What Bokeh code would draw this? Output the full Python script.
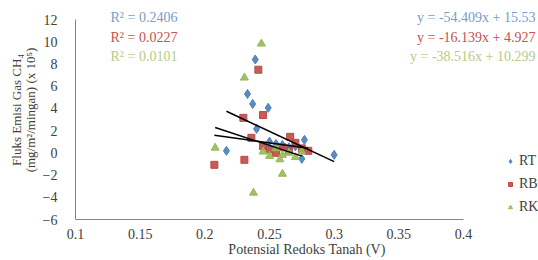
from bokeh.plotting import figure
from bokeh.models import Legend, LegendItem, Label, Range1d, FixedTicker, ColumnDataSource
from bokeh.embed import file_html
from bokeh.resources import INLINE

# ---- data ----
rt_x = [0.239, 0.233, 0.237, 0.249, 0.240, 0.2167, 0.277, 0.275, 0.300,
        0.250, 0.255, 0.260, 0.265, 0.270]
rt_y = [8.4, 5.3, 4.4, 4.05, 2.16, 0.18, 1.17, -0.54, -0.18,
        1.0, 0.8, 0.7, 0.5, 0.6]
rb_x = [0.2414, 0.245, 0.2298, 0.2074, 0.2306, 0.236, 0.266, 0.280,
        0.245, 0.250, 0.255, 0.260, 0.265, 0.270, 0.275]
rb_y = [7.48, 3.4, 3.15, -1.08, -0.63, 1.35, 1.44, 0.18,
        0.6, 0.3, 0.0, 0.5, 0.2, 0.9, 0.4]
rk_x = [0.2437, 0.2306, 0.208, 0.2376, 0.260, 0.245, 0.250, 0.255,
        0.260, 0.265, 0.270, 0.258, 0.275]
rk_y = [9.82, 6.76, 0.45, -3.6, -1.9, 0.1, -0.3, 0.4,
        -0.2, 0.0, -0.4, -0.6, 0.1]

series_names = ["RT", "RB", "RK"]
slopes = [-54.409, -16.139, -38.516]
intercepts = [15.53, 4.927, 10.299]
r2_values = ["0.2406", "0.0227", "0.0101"]
eq_texts = ["y = -54.409x + 15.53", "y = -16.139x + 4.927", "y = -38.516x + 10.299"]

x_ticks = [0.1, 0.15, 0.2, 0.25, 0.3, 0.35, 0.4]
y_ticks = [-6, -4, -2, 0, 2, 4, 6, 8, 10, 12]

colors = ["#4A7EBB", "#BE4B48", "#98B954"]
text_colors = ["#7A9CCB", "#C8504D", "#B5CC85"]
FONT = "Liberation Serif"

# frame spans to the right/top edge so texts and legend are not clipped;
# axis lines are limited with bounds
p = figure(width=538, height=260, output_backend="svg", toolbar_location=None,
           min_border_left=75, min_border_right=0, min_border_top=0, min_border_bottom=41)
p.x_range = Range1d(0.1, 0.458)
p.y_range = Range1d(-6, 13.71)
p.xgrid.visible = False
p.ygrid.visible = False
p.outline_line_color = None
p.background_fill_color = "white"

for ax in (p.xaxis[0], p.yaxis[0]):
    ax.axis_line_color = "#868686"
    ax.major_tick_line_color = None
    ax.minor_tick_line_color = None
    ax.major_label_text_font = FONT
    ax.major_label_text_font_size = "14px"
    ax.major_label_text_color = "#404040"
    ax.axis_label_text_font = FONT
    ax.axis_label_text_font_size = "14px"
    ax.axis_label_text_font_style = "normal"
    ax.axis_label_text_color = "#404040"
p.xaxis.bounds = (0.1, 0.4)
p.yaxis.bounds = (-6, 12)
p.xaxis.ticker = FixedTicker(ticks=x_ticks)
p.yaxis.ticker = FixedTicker(ticks=y_ticks)
p.xaxis.major_label_overrides = {t: ("%g" % t) for t in x_ticks}
p.xaxis.major_label_standoff = 3
p.yaxis.major_label_standoff = 12
p.xaxis.axis_label = "Potensial Redoks Tanah (V)"
p.xaxis.axis_label_standoff = 0
p.yaxis.axis_label = "Fluks Emisi Gas CH\u2084\n(mg/m\u00b2/mingan) (x 10\u2075)"
p.yaxis.axis_label_text_font_size = "13px"
p.yaxis.axis_label_text_line_height = 0.9
p.yaxis.axis_label_standoff = 2

xs_all = [rt_x, rb_x, rk_x]
ys_all = [rt_y, rb_y, rk_y]
markers = ["diamond", "square", "triangle"]
sizes = [9, 7, 8]
renderers = []
for i in range(3):
    src = ColumnDataSource(dict(x=xs_all[i], y=ys_all[i]))
    r = p.scatter("x", "y", source=src, marker=markers[i], size=sizes[i],
                  fill_color=colors[i], line_color=colors[i], fill_alpha=0.9)
    renderers.append(r)

# trend lines from the equations over each series' x range
for i in range(3):
    x0, x1 = min(xs_all[i]), max(xs_all[i])
    p.line([x0, x1], [slopes[i] * x0 + intercepts[i], slopes[i] * x1 + intercepts[i]],
           line_color="black", line_width=1.5)

for i in range(3):
    p.add_layout(Label(x=35, y=202 - i * 19.5, x_units="screen", y_units="screen",
                       text="R\u00b2 = " + r2_values[i], text_color=text_colors[i],
                       text_font=FONT, text_font_size="14px", text_baseline="middle"))
    p.add_layout(Label(x=460, y=202 - i * 19.5, x_units="screen", y_units="screen",
                       text=eq_texts[i], text_color=text_colors[i], text_align="right",
                       text_font=FONT, text_font_size="14px", text_baseline="middle"))

legend = Legend(items=[LegendItem(label=series_names[i], renderers=[renderers[i]]) for i in range(3)],
                location=(430, 2), label_text_font=FONT, label_text_font_size="14px",
                label_text_color="#404040", border_line_color=None, background_fill_alpha=0,
                glyph_width=10, glyph_height=20, spacing=3, padding=0, margin=0,
                label_standoff=4)
p.add_layout(legend, "center")

open("out.html", "w").write(file_html(p, INLINE))
